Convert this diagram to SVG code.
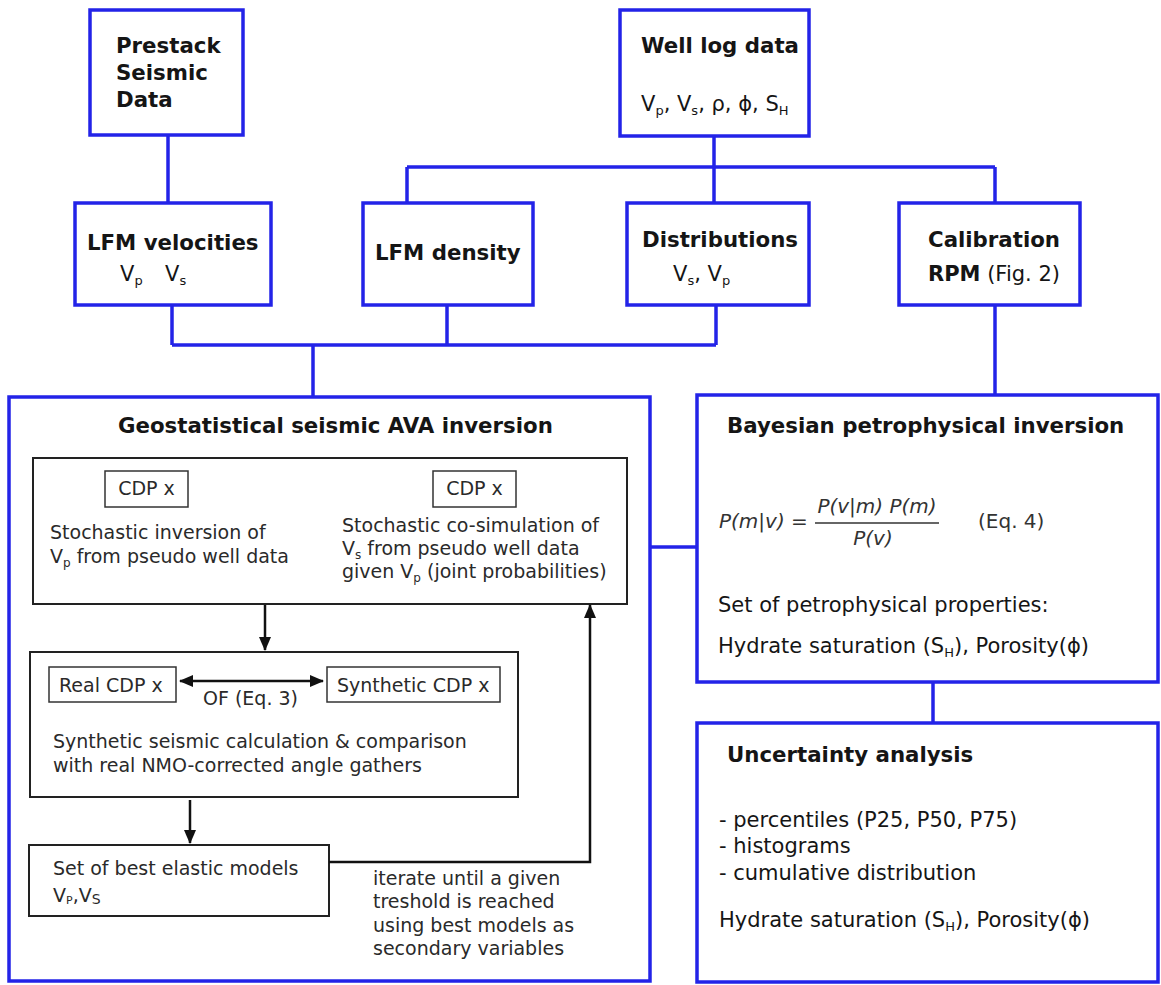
<svg xmlns="http://www.w3.org/2000/svg" width="1161" height="985" viewBox="0 0 1161 985">
<defs>
<style>
.bx{fill:#fff;stroke:#2323e8;stroke-width:3.5}
.cn{fill:none;stroke:#2323e8;stroke-width:3.5}
.ib{fill:#fff;stroke:#222;stroke-width:2}
.sb{fill:#fff;stroke:#333;stroke-width:1.5}
.ar{fill:none;stroke:#111;stroke-width:2.5}
text{font-family:"DejaVu Sans","Liberation Sans",sans-serif;fill:#151515}
.t{font-size:21.3px;font-weight:bold}
.r{font-size:21px}
.s{font-size:19px;fill:#2a2a2a}
.eq{font-size:20px;font-style:italic;fill:#333}
</style>
<marker id="ah" markerWidth="14" markerHeight="12" refX="13" refY="6" orient="auto-start-reverse" markerUnits="userSpaceOnUse">
<path d="M0,0 L14,6 L0,12 z" fill="#111"/>
</marker>
</defs>
<rect width="1161" height="985" fill="#fff"/>

<g id="connectors">
<path class="cn" d="M168 135 V203"/>
<path class="cn" d="M714 136 V167 M407 167 H995 M407 167 V203 M714 167 V203 M995 167 V203"/>
<path class="cn" d="M172 305 V345 M447 305 V345 M716 305 V345 M172 345 H716 M313 345 V397"/>
<path class="cn" d="M995 305 V395"/>
<path class="cn" d="M650 547 H697"/>
<path class="cn" d="M933 682 V723"/>
</g>

<g id="prestack">
<rect class="bx" x="90" y="10" width="153" height="125"/>
<text class="t" x="116" y="53">Prestack</text>
<text class="t" x="116" y="80">Seismic</text>
<text class="t" x="116" y="107">Data</text>
</g>

<g id="welllog">
<rect class="bx" x="620" y="10" width="189" height="126"/>
<text class="t" x="641" y="53">Well log data</text>
<text class="r" x="641" y="111">V<tspan font-size="13" dy="4">p</tspan><tspan dy="-4">, V</tspan><tspan font-size="13" dy="4">s</tspan><tspan dy="-4">, ρ, ϕ, S</tspan><tspan font-size="13" dy="4">H</tspan></text>
</g>

<g id="lfmvel">
<rect class="bx" x="75" y="203" width="196" height="102"/>
<text class="t" x="87" y="250">LFM velocities</text>
<text class="r" x="120" y="281">V<tspan font-size="13" dy="4">p</tspan></text>
<text class="r" x="165" y="281">V<tspan font-size="13" dy="4">s</tspan></text>
</g>

<g id="lfmdens">
<rect class="bx" x="363" y="203" width="170" height="102"/>
<text class="t" x="375" y="260">LFM density</text>
</g>

<g id="distributions">
<rect class="bx" x="627" y="203" width="182" height="102"/>
<text class="t" x="642" y="247">Distributions</text>
<text class="r" x="673" y="281">V<tspan font-size="13" dy="4">s</tspan><tspan dy="-4">, V</tspan><tspan font-size="13" dy="4">p</tspan></text>
</g>

<g id="calibration">
<rect class="bx" x="899" y="203" width="181" height="102"/>
<text class="t" x="928" y="247">Calibration</text>
<text class="r" x="928" y="281"><tspan font-weight="bold">RPM</tspan> (Fig. 2)</text>
</g>

<g id="ava">
<rect class="bx" x="9" y="397" width="641" height="584"/>
<text class="t" x="118" y="433">Geostatistical seismic AVA inversion</text>
<g id="stoch">
<rect class="ib" x="33" y="458" width="594" height="146"/>
<rect class="sb" x="105" y="471" width="83" height="36"/>
<text class="s" x="146.5" y="495" text-anchor="middle">CDP x</text>
<rect class="sb" x="433" y="471" width="83" height="36"/>
<text class="s" x="474.5" y="495" text-anchor="middle">CDP x</text>
<text class="s" x="50" y="539">Stochastic inversion of</text>
<text class="s" x="50" y="563">V<tspan font-size="12" dy="4">p</tspan><tspan dy="-4"> from pseudo well data</tspan></text>
<text class="s" x="342" y="532">Stochastic co-simulation of</text>
<text class="s" x="342" y="555">V<tspan font-size="12" dy="4">s</tspan><tspan dy="-4"> from pseudo well data</tspan></text>
<text class="s" x="342" y="578">given V<tspan font-size="12" dy="4">p</tspan><tspan dy="-4"> (joint probabilities)</tspan></text>
</g>
<g id="synthetic">
<rect class="ib" x="30" y="652" width="488" height="145"/>
<rect class="sb" x="49" y="667" width="127" height="35"/>
<text class="s" x="59" y="692">Real CDP x</text>
<rect class="sb" x="327" y="667" width="173" height="35"/>
<text class="s" x="337" y="692">Synthetic CDP x</text>
<text class="s" x="203" y="705">OF (Eq. 3)</text>
<text class="s" x="53" y="748">Synthetic seismic calculation &amp; comparison</text>
<text class="s" x="53" y="772">with real NMO-corrected angle gathers</text>
</g>
<g id="best">
<rect class="ib" x="29" y="845" width="300" height="71"/>
<text class="s" x="53" y="875">Set of best elastic models</text>
<text class="s" x="53" y="902">V<tspan font-size="11" dy="2">P</tspan><tspan dy="-2">,V</tspan><tspan font-size="14" dy="2">S</tspan></text>
</g>
<text class="s" x="373" y="885">iterate until a given</text>
<text class="s" x="373" y="908">treshold is reached</text>
<text class="s" x="373" y="932">using best models as</text>
<text class="s" x="373" y="955">secondary variables</text>
</g>

<g id="inner-arrows">
<path class="ar" d="M265 605 V650" marker-end="url(#ah)"/>
<path class="ar" d="M180 681 H323" marker-start="url(#ah)" marker-end="url(#ah)"/>
<path class="ar" d="M190 800 V843" marker-end="url(#ah)"/>
<path class="ar" d="M329 862 H590 V605" marker-end="url(#ah)"/>
</g>

<g id="bayesian">
<rect class="bx" x="697" y="395" width="461" height="287"/>
<text class="t" x="727" y="433">Bayesian petrophysical inversion</text>
<text class="eq" x="719" y="528">P(m|v) =</text>
<text class="eq" x="877" y="513" text-anchor="middle">P(v|m) P(m)</text>
<line x1="815" y1="523" x2="939" y2="523" stroke="#333" stroke-width="1.5"/>
<text class="eq" x="873" y="545" text-anchor="middle">P(v)</text>
<text class="r" x="978" y="528" style="font-size:20px;fill:#333">(Eq. 4)</text>
<text class="r" x="718" y="612">Set of petrophysical properties:</text>
<text class="r" x="718" y="653">Hydrate saturation (S<tspan font-size="13" dy="4">H</tspan><tspan dy="-4">), Porosity(ϕ)</tspan></text>
</g>

<g id="uncertainty">
<rect class="bx" x="697" y="723" width="461" height="259"/>
<text class="t" x="727" y="762">Uncertainty analysis</text>
<text class="r" x="719" y="827">- percentiles (P25, P50, P75)</text>
<text class="r" x="719" y="853">- histograms</text>
<text class="r" x="719" y="880">- cumulative distribution</text>
<text class="r" x="719" y="927">Hydrate saturation (S<tspan font-size="13" dy="4">H</tspan><tspan dy="-4">), Porosity(ϕ)</tspan></text>
</g>
</svg>
